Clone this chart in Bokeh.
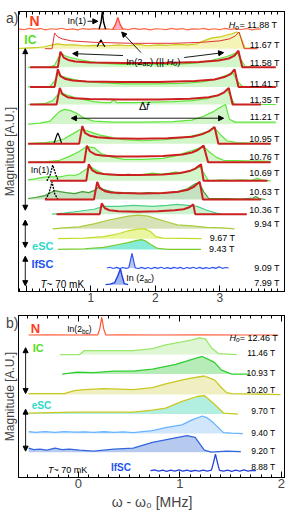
from bokeh.plotting import figure
from bokeh.models import (Label, Arrow, NormalHead, LinearAxis, SingleIntervalTicker, FixedTicker,
                          CustomLabelingPolicy)
from bokeh.layouts import column
from bokeh.embed import file_html
from bokeh.resources import INLINE

FONT = "Liberation Sans"

# ---------------- panel a data : (omega - omega0 [MHz], magnitude above baseline [A.U.]) ----------------
A_FIELDS = ["11.88 T", "11.67 T", "11.58 T", "11.41 T", "11.35 T", "11.21 T", "10.95 T", "10.76 T",
            "10.69 T", "10.63 T", "10.36 T", "9.94 T", "9.67 T", "9.43 T", "9.09 T", "7.99 T"]
A_OFFSETS = [268, 248, 229, 209, 191, 171, 151, 132, 113, 94, 79, 64, 54, 43, 24, 7]

A_N_LINE = [(-0.12, 0.3), (-0.04, -0.6), (0.05, 0.8), (0.13, -0.2), (0.22, 0.6), (0.30, -0.8), (0.38, 0.4),
            (0.47, -0.3), (0.55, 0.9), (0.63, -0.5), (0.72, 0.2), (0.80, -0.7), (0.88, 0.6), (0.97, -0.2),
            (1.05, 0.5), (1.12, 0.0), (1.26, 0.3), (1.33, -0.4), (1.50, 0.3), (1.58, -0.6), (1.67, 0.7),
            (1.75, -0.3), (1.83, 0.5), (1.92, -0.8), (2.00, 0.4), (2.08, 0.1), (2.17, -0.5), (2.25, 0.8),
            (2.33, -0.2), (2.42, 0.6), (2.50, -0.7), (2.58, 0.3), (2.67, -0.1), (2.75, 0.7), (2.83, -0.5),
            (2.92, 0.4), (3.00, -0.6), (3.08, 0.8), (3.17, -0.3), (3.25, 0.5), (3.33, -0.4), (3.42, 0.6),
            (3.50, -0.7), (3.58, 0.2), (3.64, 0.0)]
A_N_IN1 = [(1.13, 0), (1.16, 7), (1.18, 18), (1.20, 7), (1.23, 0)]
A_N_IN2 = [(1.34, 0), (1.38, 4), (1.42, 12), (1.46, 4), (1.50, 0)]

A_IC_EXP = [(-0.12, 0), (-0.02, 0.5), (0.14, 1), (0.29, 2), (0.40, 4), (0.49, 5), (0.59, 4), (0.75, 4),
            (0.90, 3), (1.05, 3.5), (1.28, 3), (1.43, 4), (1.58, 3), (1.74, 4.5), (1.89, 3), (2.04, 4),
            (2.19, 3.5), (2.34, 4.5), (2.50, 4), (2.65, 5), (2.75, 8), (2.88, 11), (3.00, 12), (3.11, 14),
            (3.18, 15), (3.26, 17), (3.30, 16), (3.35, 8), (3.39, 1), (3.49, 0.5), (3.56, 0)]
A_IC_IN1 = [(1.10, 2), (1.13, 6), (1.16, 9), (1.19, 5), (1.22, 2)]
A_IC_FIT = [(0.29, 0), (0.40, 0), (0.44, 16), (0.49, 12), (0.56, 10), (0.70, 8), (1.05, 6.5), (1.66, 5.5),
            (2.27, 5.5), (2.72, 6.5), (3.00, 8), (3.15, 10), (3.24, 13), (3.30, 17), (3.38, 0), (3.59, 0)]

A_1158_EXP = [(0.03, 0), (0.37, 0.5), (0.44, 2), (0.50, 10), (0.55, 14), (0.59, 12), (0.68, 10), (0.82, 8),
              (0.97, 6), (1.20, 4), (1.51, 3), (1.81, 3.5), (2.12, 3), (2.42, 3.5), (2.65, 4.5), (2.88, 7),
              (3.11, 11), (3.23, 14), (3.27, 15), (3.33, 8), (3.39, 1), (3.59, 0)]
A_1158_FIT = [(0.06, 0), (0.49, 0), (0.53, 16), (0.58, 10), (0.65, 7.5), (0.76, 6), (0.99, 5), (1.51, 4.5),
              (2.12, 4.5), (2.68, 5.5), (2.98, 7), (3.14, 9), (3.23, 12), (3.29, 17), (3.35, 0), (3.87, 0)]

A_1141_EXP = [(0.03, 0), (0.37, 0.5), (0.44, 6), (0.49, 13), (0.55, 11), (0.64, 9), (0.78, 7), (0.97, 5),
              (1.20, 4), (1.51, 3), (1.96, 3), (2.42, 3.5), (2.72, 5), (2.95, 8), (3.11, 12), (3.20, 15),
              (3.27, 6), (3.36, 0), (3.61, 0)]
A_1141_FIT = [(0.06, 0), (0.44, 0), (0.49, 18), (0.53, 11), (0.61, 8), (0.72, 6.5), (0.94, 5.5), (1.46, 5),
              (2.04, 5), (2.62, 6), (2.92, 7.5), (3.07, 10), (3.17, 13), (3.23, 18), (3.29, 0), (3.87, 0)]

A_1135_EXP = [(0.03, 0), (0.29, 1), (0.41, 4), (0.49, 10), (0.55, 12), (0.62, 10), (0.75, 7), (0.90, 5),
              (1.05, 3), (1.20, 2), (1.31, 2), (1.35, 5), (1.40, 2), (1.66, 2), (1.96, 2.5), (2.27, 3),
              (2.57, 4), (2.80, 6), (3.00, 10), (3.12, 15), (3.17, 8), (3.23, 0), (3.87, 0)]
A_1135_FIT = [(0.06, 0), (0.47, 0), (0.52, 17), (0.56, 10.5), (0.64, 7.5), (0.75, 6.5), (0.97, 5.5), (1.48, 5),
              (2.04, 5), (2.54, 6), (2.83, 7.5), (2.98, 9.5), (3.07, 12.5), (3.14, 17), (3.20, 0), (3.64, 0)]

A_1121_EXP = [(0.03, 0), (0.21, 1), (0.37, 3), (0.44, 8), (0.52, 13), (0.59, 15), (0.68, 14), (0.78, 11),
              (0.90, 6), (1.05, 3), (1.35, 2), (1.81, 2), (2.27, 2.5), (2.57, 4), (2.75, 8), (2.91, 13),
              (3.03, 18), (3.09, 20), (3.15, 5), (3.24, 2), (3.87, 2)]

A_1095_EXP = [(0.03, 0), (0.29, 1), (0.44, 2), (0.59, 5), (0.72, 10), (0.82, 14), (0.90, 14), (0.99, 12),
              (1.13, 9), (1.28, 7), (1.51, 4), (1.81, 3), (2.12, 4), (2.42, 6), (2.65, 9), (2.80, 12),
              (2.91, 17), (3.00, 10), (3.11, 3), (3.26, 1), (3.79, 0)]
A_1095_IN1 = [(0.43, 0), (0.47, 8), (0.49, 11), (0.52, 6), (0.55, 0)]
A_1095_FIT = [(0.03, 0), (0.82, 0), (0.87, 18), (0.91, 11), (0.99, 8), (1.10, 6.5), (1.32, 5.5), (1.74, 5),
              (2.19, 5.5), (2.57, 7), (2.72, 9.5), (2.83, 12.5), (2.92, 17), (2.98, 0), (3.79, 0)]

A_1076_EXP = [(0.03, 0), (0.29, 0.5), (0.52, 2), (0.67, 6), (0.82, 11), (0.94, 16), (1.05, 15), (1.16, 9),
              (1.28, 6), (1.51, 3), (1.81, 3), (2.12, 4), (2.34, 7), (2.57, 12), (2.75, 16), (2.85, 10),
              (2.95, 5), (3.06, 2), (3.79, 1)]
A_1076_FIT = [(0.03, 0), (0.90, 0), (0.94, 17), (0.99, 11), (1.07, 8), (1.17, 7), (1.40, 6), (1.74, 6),
              (2.12, 6.5), (2.42, 8), (2.57, 10), (2.66, 12.5), (2.75, 17), (2.82, 0), (3.79, 0)]

A_1069_EXP = [(0.03, 1), (0.14, 2), (0.21, 3), (0.32, 4), (0.52, 4), (0.59, 5), (0.67, 6), (0.75, 5.5),
              (0.82, 7), (0.93, 12), (0.99, 15), (1.05, 12), (1.17, 8), (1.28, 6), (1.35, 6.5), (1.48, 5.5),
              (1.58, 7), (1.69, 6), (1.81, 6.5), (1.96, 8), (2.08, 7), (2.19, 7.5), (2.31, 9), (2.42, 8.5),
              (2.53, 10), (2.62, 12), (2.69, 15), (2.77, 6), (2.83, 0), (3.03, 1), (3.18, 0.5), (3.33, 1),
              (3.49, 0.5), (3.58, 2.5), (3.64, 1), (3.79, 0)]
A_1069_IN1 = [(0.32, 0), (0.37, 6), (0.41, 16), (0.46, 6), (0.50, 0)]
A_1069_FIT = [(0.37, 0), (0.93, 0), (0.97, 17), (1.02, 11), (1.10, 8), (1.20, 7), (1.43, 6), (1.74, 6),
              (2.12, 6.5), (2.39, 8), (2.53, 10), (2.62, 12.5), (2.71, 17), (2.75, 0), (3.74, 0)]

A_1063_EXP = [(0.03, 1), (0.14, 2), (0.29, 4), (0.38, 7), (0.44, 9), (0.52, 8), (0.62, 7), (0.75, 6),
              (0.87, 8), (0.97, 7), (1.05, 9), (1.13, 13), (1.20, 10), (1.32, 8), (1.43, 6), (1.58, 7),
              (1.74, 6), (1.89, 7), (2.04, 6), (2.19, 7), (2.34, 8), (2.50, 11), (2.62, 16), (2.68, 17),
              (2.75, 8), (2.83, 1), (3.11, 1), (3.33, 0.5), (3.52, 1.5), (3.56, 3), (3.61, 1), (3.71, 0)]
A_1063_IN1 = [(0.30, 0), (0.35, 6), (0.40, 18), (0.44, 6), (0.49, 0)]
A_1063_FIT = [(0.29, 0), (1.05, 0), (1.10, 18), (1.14, 11.5), (1.22, 8.5), (1.32, 7), (1.51, 6.5), (1.81, 6),
              (2.12, 6.5), (2.37, 8), (2.51, 10), (2.60, 13), (2.69, 18), (2.74, 0), (3.64, 0)]

A_1036_EXP = [(0.40, 0), (0.59, 1), (0.82, 3), (1.05, 5), (1.20, 8), (1.43, 8), (1.66, 9), (1.96, 8),
              (2.19, 9), (2.34, 10), (2.50, 9), (2.65, 8), (2.80, 4), (2.95, 1), (3.03, 0)]
A_1036_FIT = [(0.47, 0), (1.14, 0), (1.17, 11), (1.22, 6), (1.29, 4), (1.43, 3), (1.74, 2.5), (2.04, 3),
              (2.30, 4), (2.44, 5), (2.53, 7), (2.59, 10), (2.62, 0), (3.42, 0)]

A_994_EXP = [(0.41, 0), (0.59, 1), (0.82, 2), (1.05, 5), (1.28, 9), (1.43, 11), (1.58, 13), (1.74, 14),
             (1.89, 13), (2.04, 10), (2.19, 7), (2.34, 4), (2.57, 3), (2.80, 1.5), (3.03, 1), (3.23, 0)]
A_967_EXP = [(0.49, 0), (0.90, 0.5), (1.20, 2), (1.43, 5), (1.58, 8), (1.74, 10), (1.84, 10), (1.93, 7),
             (2.01, 2), (2.12, 0.5), (2.72, 0)]
A_943_EXP = [(0.49, 0), (0.90, 0.5), (1.20, 2), (1.43, 5), (1.58, 7), (1.70, 9), (1.78, 10), (1.84, 9),
             (1.93, 5), (2.04, 1), (2.19, 0), (2.71, 0)]
A_909_EXP = [(1.25, 0), (1.30, 0.8), (1.35, -0.5), (1.40, 0.7), (1.45, -0.6), (1.50, 0.5), (1.55, -0.4),
             (1.59, 0.3), (1.61, 6), (1.64, 15), (1.67, 6), (1.69, 0.2), (1.74, -0.5), (1.79, 0.7), (1.84, -0.6),
             (1.89, 0.5), (1.94, -0.7), (1.99, 0.6), (2.04, -0.4), (2.09, 0.8), (2.14, -0.5), (2.19, 0.4),
             (2.24, -0.6), (2.29, 0.7), (2.34, -0.3), (2.39, 0.6), (2.44, -0.7), (2.49, 0.5), (2.54, -0.4),
             (2.59, 0.8), (2.64, -0.5), (2.69, 0.6), (2.74, -0.6), (2.79, 0.4), (2.84, -0.5), (2.89, 0.7),
             (2.94, -0.4), (2.99, 1.2), (3.04, -0.3), (3.09, 0.5), (3.14, 0)]
A_799_EXP = [(1.23, 0), (1.30, 0.5), (1.37, 2), (1.42, 9), (1.46, 16), (1.49, 8), (1.52, 1), (1.58, 0)]

# ---------------- panel b data ----------------
B_FIELDS = ["12.46 T", "11.46 T", "10.93 T", "10.20 T", "9.70 T", "9.40 T", "9.20 T", "8.88 T"]
B_OFFSETS = [146, 126, 106, 85, 65, 45, 26, 7]

B_N = [(-0.49, 0), (-0.30, 0.2), (0.00, 0), (0.15, 0.2), (0.19, 0), (0.21, 6), (0.23, 18), (0.25, 6),
       (0.27, 0), (0.40, 0.2), (0.80, 0), (1.20, 0.2), (1.60, 0), (1.97, 0)]
B_1146 = [(-0.18, 0), (0.01, 0), (0.06, 4), (0.25, 4), (0.54, 4), (0.73, 6), (0.86, 10), (1.02, 13),
          (1.12, 15), (1.19, 17), (1.25, 16), (1.31, 7), (1.38, 1), (1.56, 0)]
B_1093 = [(-0.16, 0), (-0.01, 2), (0.15, 1.5), (0.35, 3), (0.54, 3), (0.73, 5), (0.96, 10), (1.12, 15),
          (1.22, 18), (1.30, 14), (1.34, 12), (1.41, 4), (1.51, 0), (1.68, 0)]
B_1020 = [(-0.49, 1), (-0.14, 1), (-0.04, 4), (0.06, 5), (0.25, 6), (0.54, 5), (0.73, 7), (0.86, 11),
          (1.07, 16), (1.24, 19), (1.34, 15), (1.41, 7), (1.46, 2), (1.51, 1), (1.99, 0)]
B_970 = [(-0.49, 1), (-0.04, 2), (0.35, 2), (0.54, 2), (0.73, 4), (0.86, 6), (1.02, 13), (1.17, 18),
         (1.24, 19), (1.33, 11), (1.43, 1), (1.57, 0)]
B_940 = [(-0.49, 2), (-0.42, 1.2), (-0.33, 2), (-0.23, 1.3), (-0.14, 2), (-0.04, 1.4), (0.06, 1.8),
         (0.15, 1.2), (0.25, 1.9), (0.35, 1.3), (0.44, 1.8), (0.54, 1), (0.73, 3), (0.86, 6), (1.02, 9),
         (1.12, 14), (1.22, 18), (1.27, 16), (1.33, 11), (1.43, 1), (1.51, 0.5), (1.62, 0)]
B_920 = [(-0.49, 4), (-0.44, 2.5), (-0.38, 3), (-0.31, 2), (-0.23, 4), (-0.16, 2.5), (-0.09, 3), (0.01, 2),
         (0.15, 1), (0.35, 3), (0.54, 4), (0.73, 10), (0.93, 14), (1.07, 17), (1.15, 15), (1.24, 2),
         (1.31, 0), (1.46, 1), (1.60, 0.5)]
B_888 = [(0.71, 0), (0.75, 0.7), (0.79, -0.5), (0.83, 0.6), (0.87, -0.6), (0.91, 0.5), (0.95, -0.4),
         (0.99, 0.7), (1.03, -0.5), (1.07, 0.6), (1.11, -0.6), (1.15, 0.4), (1.19, -0.5), (1.23, 0.6),
         (1.27, -0.4), (1.31, 0.5), (1.33, 8), (1.35, 17), (1.37, 8), (1.39, 0.3), (1.43, -0.5), (1.47, 0.6),
         (1.51, -0.6), (1.55, 0.5), (1.59, -0.4), (1.63, 0.7), (1.67, -0.5), (1.71, 0.4), (1.75, 0)]

# ---------------- helpers ----------------
W = {' ': 278, '(': 333, ')': 333, '2': 556, 'I': 278, 'n': 556, 'a': 556, 'c': 500, 'b': 556, '|': 260,
     'H': 722, 'o': 556, '=': 584, '1': 556, '.': 278, '8': 556, '4': 556, '6': 556, 'T': 611}


def twidth(s, size):
    return sum(W.get(ch, 556) for ch in s) * size / 1000.0


def trace(fig, pts, base, color, width=1.0, fill=None, alpha=1.0, dash="solid"):
    xs = [p[0] for p in pts]
    ys = [base + p[1] for p in pts]
    if fill is not None:
        fig.varea(x=xs, y1=[base] * len(xs), y2=ys, fill_color=fill, fill_alpha=alpha)
    fig.line(xs, ys, line_color=color, line_width=width, line_dash=dash)


def lab(fig, x, y, text, size=9, color="black", align="left", baseline="middle", style="normal", dx=0, dy=0):
    fig.add_layout(Label(x=x, y=y, text=text, text_font=FONT, text_font_size=f"{size}px", text_color=color,
                         text_align=align, text_baseline=baseline, text_font_style=style,
                         x_offset=dx, y_offset=dy))


def rich(fig, x, y, parts, color="black"):
    dx = 0.0
    for text, size, style, dy in parts:
        lab(fig, x, y, text, size=size, color=color, baseline="alphabetic", style=style, dx=dx, dy=dy)
        dx += twidth(text, size)


def arrow(fig, x0, y0, x1, y1, both=False, size=5):
    fig.add_layout(Arrow(end=NormalHead(size=size, fill_color="black", line_color="black"),
                         start=NormalHead(size=size, fill_color="black", line_color="black") if both else None,
                         x_start=x0, y_start=y0, x_end=x1, y_end=y1, line_width=0.9, line_color="black"))


def style_fig(fig, panel_tag, tag_y, xlabel_size="12px"):
    fig.xgrid.visible = False
    fig.ygrid.visible = False
    fig.outline_line_color = "black"
    fig.outline_line_width = 1
    fig.outline_line_alpha = 1
    bottom = fig.xaxis[0]
    bottom.ticker = SingleIntervalTicker(interval=1, num_minor_ticks=10)
    bottom.major_tick_in = 6
    bottom.major_tick_out = 0
    bottom.minor_tick_in = 3
    bottom.minor_tick_out = 0
    bottom.major_label_text_font = FONT
    bottom.major_label_text_font_size = xlabel_size
    bottom.major_label_standoff = 1
    bottom.axis_line_color = "black"
    top = LinearAxis(ticker=SingleIntervalTicker(interval=1, num_minor_ticks=10), major_tick_in=6,
                     major_tick_out=0, minor_tick_in=3, minor_tick_out=0, major_label_standoff=0,
                     major_label_policy=CustomLabelingPolicy(code="for (const i of indices) { if (i < -1000) yield i }"),
                     axis_line_color="black")
    fig.add_layout(top, "above")
    ya = fig.yaxis[0]
    ya.ticker = FixedTicker(ticks=[tag_y])
    ya.major_label_overrides = {tag_y: panel_tag}
    ya.major_label_text_font = FONT
    ya.major_label_text_font_size = "14px"
    ya.major_label_standoff = 0
    ya.major_tick_out = 0
    ya.major_tick_in = 0
    ya.major_tick_line_color = None
    ya.minor_tick_line_color = None
    ya.axis_label = "Magnitude [A.U.]"
    ya.axis_label_text_font = FONT
    ya.axis_label_text_font_size = "12px"
    ya.axis_label_text_font_style = "normal"
    ya.axis_label_standoff = -14
    ya.axis_line_color = "black"
    return bottom


RED = "#cc1f1f"
GREEN = "#5ee63c"
GFILL = "#d2f5ca"

# ================= panel a =================
fa = figure(frame_width=267, frame_height=280, x_range=(-0.12, 4.02), y_range=(0, 286), output_backend="svg",
            toolbar_location=None, min_border_left=14, min_border_right=0, min_border_top=0, min_border_bottom=0)
ax_a = style_fig(fa, "a)", 279)
ax_a.major_label_overrides = {0: "", 4: ""}

o = dict(zip(A_FIELDS, A_OFFSETS))
trace(fa, A_N_LINE, o["11.88 T"], "#ff6a45", 1.2)
trace(fa, A_N_IN2, o["11.88 T"], "#ff4a2a", 1.3, fill="#ffb0c8")
trace(fa, A_N_IN1, o["11.88 T"], "black", 1.4)
trace(fa, A_IC_EXP, o["11.67 T"], "#c9c91c", 1.2, fill="#f4f4b6")
trace(fa, A_IC_IN1, o["11.67 T"], "black", 1.2)
trace(fa, A_IC_FIT, o["11.67 T"], "#e03434", 1.0)
for pts, fit, key in [(A_1158_EXP, A_1158_FIT, "11.58 T"), (A_1141_EXP, A_1141_FIT, "11.41 T"),
                      (A_1135_EXP, A_1135_FIT, "11.35 T"), (A_1121_EXP, None, "11.21 T"),
                      (A_1095_EXP, A_1095_FIT, "10.95 T"), (A_1076_EXP, A_1076_FIT, "10.76 T"),
                      (A_1069_EXP, A_1069_FIT, "10.69 T")]:
    trace(fa, pts, o[key], GREEN, 1.2, fill=GFILL)
    if key == "10.95 T":
        trace(fa, A_1095_IN1, o[key], "black", 1.2)
    if key == "10.69 T":
        trace(fa, A_1069_IN1, o[key], "black", 1.3, dash="2 1")
    if fit is not None:
        trace(fa, fit, o[key], RED, 2.0)
trace(fa, A_1063_EXP, o["10.63 T"], "#3f9f2f", 1.2, fill="#c4e2bf")
trace(fa, A_1063_IN1, o["10.63 T"], "black", 1.3, dash="2 1")
trace(fa, A_1063_FIT, o["10.63 T"], RED, 2.0)
trace(fa, A_1036_EXP, o["10.36 T"], "#4ccf86", 1.2, fill="#cdf2cf")
trace(fa, A_1036_FIT, o["10.36 T"], RED, 2.0)
trace(fa, A_994_EXP, o["9.94 T"], "#a9cc3c", 1.2, fill="#d7e3b6")
trace(fa, A_967_EXP, o["9.67 T"], "#c2dc2e", 1.2, fill="#ecf6a0")
trace(fa, A_943_EXP, o["9.43 T"], "#7bcc2e", 1.2, fill="#86ecd8")
trace(fa, A_909_EXP, o["9.09 T"], "#3055f0", 1.2, fill="#b8c8f5")
trace(fa, A_799_EXP, o["7.99 T"], "#1f3fe0", 1.4, fill="#9fb5f2")

for key, y in [("11.67 T", 252), ("11.58 T", 233), ("11.41 T", 212), ("11.35 T", 196), ("11.21 T", 178),
               ("10.95 T", 156), ("10.76 T", 137), ("10.69 T", 121), ("10.63 T", 102), ("10.36 T", 83),
               ("9.94 T", 69), ("9.09 T", 24), ("7.99 T", 9)]:
    lab(fa, 3.93, y, key, size=9, align="right")
lab(fa, 3.24, 55, "9.67 T", size=9, align="right")
lab(fa, 3.23, 43, "9.43 T", size=9, align="right")
s = " = 11.88 T"
lab(fa, 3.93, 272, s, size=9, align="right", baseline="alphabetic")
wv = twidth(s, 9)
lab(fa, 3.93, 272, "o", size=6.5, align="right", baseline="alphabetic", style="italic", dx=-wv, dy=-2)
lab(fa, 3.93, 272, "H", size=9, align="right", baseline="alphabetic", style="italic", dx=-(wv + twidth("o", 6.5)))

lab(fa, 0.05, 276, "N", size=14, color="#ff3a1a", style="bold")
lab(fa, -0.03, 257, "IC", size=12, color="#55dd22", style="bold")
lab(fa, 0.09, 46, "eSC", size=11, color="#2fd8c8", style="bold")
lab(fa, 0.08, 28, "IfSC", size=11, color="#2255ee", style="bold")
rich(fa, 0.22, 7, [("T", 10, "italic", 0), ("~ 70 mK", 10, "normal", 0)])
lab(fa, 0.64, 276, "In(1)", size=9)
arrow(fa, 0.95, 276, 1.11, 276)
lab(fa, 0.07, 124, "In(1)", size=9)
rich(fa, 1.55, 235, [("In(2", 9.5, "normal", 0), ("ac", 7, "normal", -2.5), (") (|| ", 9.5, "normal", 0),
                     ("H", 9.5, "italic", 0), ("o", 7, "italic", -2.5), (")", 9.5, "normal", 0)])
arrow(fa, 1.50, 241, 0.72, 243)
arrow(fa, 1.78, 244, 1.48, 265)
arrow(fa, 2.45, 239, 3.06, 244)
lab(fa, 1.75, 189, "Δ", size=11)
lab(fa, 1.75, 189, "f", size=11, style="italic", dx=7)
arrow(fa, 0.70, 177, 3.06, 177, both=True)
rich(fa, 1.55, 14, [("In (2", 9, "normal", 0), ("ac", 6.5, "normal", -2.5), (")", 9, "normal", 0)])
arrow(fa, -0.015, 83, -0.015, 248, both=True)
arrow(fa, -0.015, 45, -0.015, 73, both=True)
arrow(fa, -0.015, 6, -0.015, 36, both=True)

# ================= panel b =================
fb = figure(frame_width=267, frame_height=162, x_range=(-0.59, 2.04), y_range=(0, 166), output_backend="svg",
            toolbar_location=None, min_border_left=14, min_border_right=0, min_border_top=2, min_border_bottom=0)
ax_b = style_fig(fb, "b)", 158, xlabel_size="13px")
ax_b.axis_label = "ω - ω₀ [MHz]"
ax_b.axis_label_text_font = FONT
ax_b.axis_label_text_font_size = "14px"
ax_b.axis_label_text_font_style = "normal"
ax_b.axis_label_standoff = 3

ob = dict(zip(B_FIELDS, B_OFFSETS))
trace(fb, B_N, ob["12.46 T"], "#ff5533", 1.2)
trace(fb, B_1146, ob["11.46 T"], "#9be86c", 1.3, fill="#def6d4")
trace(fb, B_1093, ob["10.93 T"], "#2fcf2f", 1.3, fill="#b6ecb8")
trace(fb, B_1020, ob["10.20 T"], "#c8c820", 1.3, fill="#efefc2")
trace(fb, B_970, ob["9.70 T"], "#c8c820", 1.3, fill="#b2efe0")
trace(fb, B_940, ob["9.40 T"], "#66b3ff", 1.3, fill="#d2e6fb")
trace(fb, B_920, ob["9.20 T"], "#3366dd", 1.3, fill="#b6caf0")
trace(fb, B_888, ob["8.88 T"], "#2244dd", 1.3)

for key, y in [("11.46 T", 128), ("10.93 T", 107), ("10.20 T", 90), ("9.70 T", 68), ("9.40 T", 46),
               ("9.20 T", 27), ("8.88 T", 11)]:
    lab(fb, 1.94, y, key, size=8.5, align="right")
s = " = 12.46 T"
lab(fb, 1.99, 143, s, size=9, align="right", baseline="alphabetic")
wv = twidth(s, 9)
lab(fb, 1.99, 143, "o", size=6.5, align="right", baseline="alphabetic", style="italic", dx=-wv, dy=-2)
lab(fb, 1.99, 143, "H", size=9, align="right", baseline="alphabetic", style="italic", dx=-(wv + twidth("o", 6.5)))
lab(fb, -0.47, 153, "N", size=13, color="#ff3a1a", style="bold")
rich(fb, -0.11, 152, [("In(2", 8.5, "normal", 0), ("bc", 6.5, "normal", -2.5), (")", 8.5, "normal", 0)])
lab(fb, -0.45, 133, "IC", size=11, color="#55dd22", style="bold")
lab(fb, -0.46, 74, "eSC", size=10, color="#2fd8c8", style="bold")
rich(fb, -0.30, 8, [("T", 9, "italic", 0), ("~ 70 mK", 9, "normal", 0)])
lab(fb, 0.32, 10, "IfSC", size=10, color="#2255ee", style="bold")
arrow(fb, -0.52, 86, -0.52, 133, both=True)
arrow(fb, -0.52, 27, -0.52, 70, both=True)

layout = column(fa, fb, spacing=0)
open("out.html", "w").write(file_html(layout, INLINE))
